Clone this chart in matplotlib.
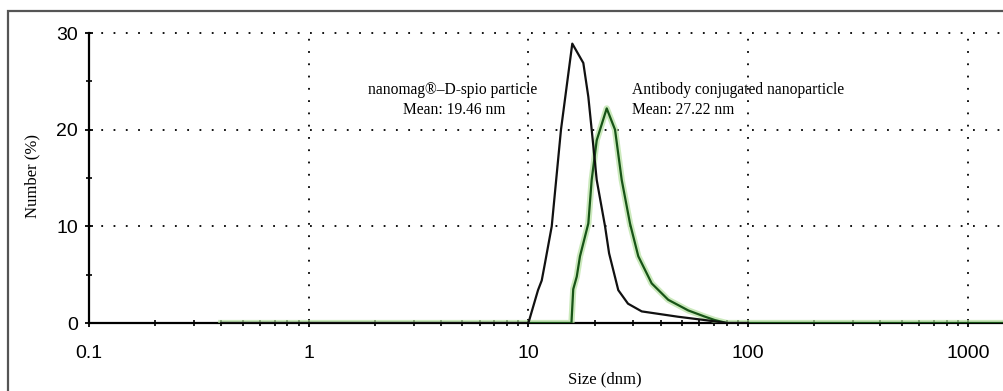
import matplotlib
matplotlib.use("Agg")
import matplotlib.pyplot as plt
from matplotlib.patches import Rectangle
from matplotlib.ticker import LogLocator, NullFormatter, FixedLocator

# nanomag-D-spio particle (black), size in nm vs number %
spio_size = [0.4, 9.0, 10.0, 11.06, 11.5, 11.9, 12.77, 14.07, 15.84, 17.78, 18.74,
             19.41, 20.46, 22.33, 23.3, 25.65, 28.4, 32.8, 47.9, 63.7, 80.0, 100.0]
spio_num = [0, 0, 0, 3.4, 4.4, 6.2, 10.0, 20.0, 28.9, 26.9, 23.4,
            20.0, 14.8, 10.0, 7.2, 3.4, 2.0, 1.2, 0.65, 0.3, 0.0, 0]

# antibody conjugated nanoparticle (green)
ab_size = [0.4, 15.7, 16.0, 16.6, 17.17, 18.74, 19.41, 20.46, 22.72, 24.79, 26.59,
           29.0, 31.64, 36.4, 43.3, 53.4, 63.7, 70.6, 80.0, 10000]
ab_num = [0, 0, 3.5, 4.8, 6.9, 10.3, 14.8, 18.9, 22.2, 20.0, 14.8,
          10.3, 6.9, 4.1, 2.4, 1.3, 0.65, 0.3, 0, 0]

xticks = [0.1, 1, 10, 100, 1000]
xticklabels = ["0.1", "1", "10", "100", "1000"]
yticks = [0, 10, 20, 30]

W, H = 1004, 391
fig = plt.figure(figsize=(W / 100, H / 100), dpi=100)

# axes placement: 0.1 -> px 89, each decade ~219.7 px, y 0 -> px 323, 30 -> px 33
x0, dec = 89, 219.7
wpx = 5 * dec
ytop = 30.5
hpx = (323 - 33) * ytop / 30
ax = fig.add_axes([x0 / W, (H - 323) / H, wpx / W, hpx / H])
ax.set_xscale("log")
ax.set_xlim(0.1, 10000)
ax.set_ylim(0, ytop)

# frame round the picture
fig.patches.append(Rectangle((8 / W, -0.1), 1.2, (H - 11) / H + 0.1,
                             transform=fig.transFigure, fill=False,
                             edgecolor="#555555", linewidth=1.6))

dots = (0, (1, 5.8))
for v in [1, 10, 100, 1000]:
    ax.plot([v, v], [0, 30], color="black", linestyle=dots, linewidth=1.3, zorder=1)
for v in [10, 20, 30]:
    ax.plot([0.1, 10000], [v, v], color="black", linestyle=dots, linewidth=1.3,
            zorder=1, clip_on=False)

# green with a soft halo
ax.plot(ab_size, ab_num, color="#b5e0a0", linewidth=4.5, alpha=0.7, zorder=3,
        solid_joinstyle="round")
ax.plot(ab_size, ab_num, color="#175417", linewidth=1.6, zorder=4)
ax.plot(spio_size, spio_num, color="#111111", linewidth=1.6, zorder=5)

for s in ["top", "right"]:
    ax.spines[s].set_visible(False)
ax.spines["left"].set_bounds(0, 30)
ax.spines["left"].set_linewidth(1.6)
ax.spines["bottom"].set_linewidth(1.6)
ax.spines["bottom"].set_zorder(2)

ax.xaxis.set_major_locator(FixedLocator(xticks))
ax.set_xticklabels(xticklabels)
ax.xaxis.set_minor_locator(LogLocator(base=10, subs=range(2, 10), numticks=20))
ax.xaxis.set_minor_formatter(NullFormatter())
ax.set_yticks(yticks)
ax.set_yticks([5, 15, 25], minor=True)

ax.tick_params(axis="both", which="major", direction="inout", length=6, width=1.3,
               labelsize=14, colors="black")
ax.tick_params(axis="both", which="minor", direction="inout", length=5, width=1.2)
ax.tick_params(axis="x", which="major", pad=13)
ax.tick_params(axis="y", which="major", pad=5)
for lab in ax.get_xticklabels() + ax.get_yticklabels():
    lab.set_family("Liberation Sans")

ax.set_xlabel("Size (dnm)", family="Liberation Serif", fontsize=12)
ax.xaxis.set_label_coords((605 - x0) / wpx, -48 / hpx)
ax.set_ylabel("Number (%)", family="Liberation Serif", fontsize=12)
ax.yaxis.set_label_coords(-49 / wpx, 0.5)

ax.text(453 / W, (H - 90) / H, "nanomag®–D-spio particle", transform=fig.transFigure,
        ha="center", va="center", family="Liberation Serif", fontsize=11.2)
ax.text(454 / W, (H - 110) / H, "Mean: 19.46 nm", transform=fig.transFigure,
        ha="center", va="center", family="Liberation Serif", fontsize=11.2)
ax.text(632 / W, (H - 90) / H, "Antibody conjugated nanoparticle", transform=fig.transFigure,
        ha="left", va="center", family="Liberation Serif", fontsize=11.2)
ax.text(632 / W, (H - 110) / H, "Mean: 27.22 nm", transform=fig.transFigure,
        ha="left", va="center", family="Liberation Serif", fontsize=11.2)

fig.savefig("out.png", dpi=100)
